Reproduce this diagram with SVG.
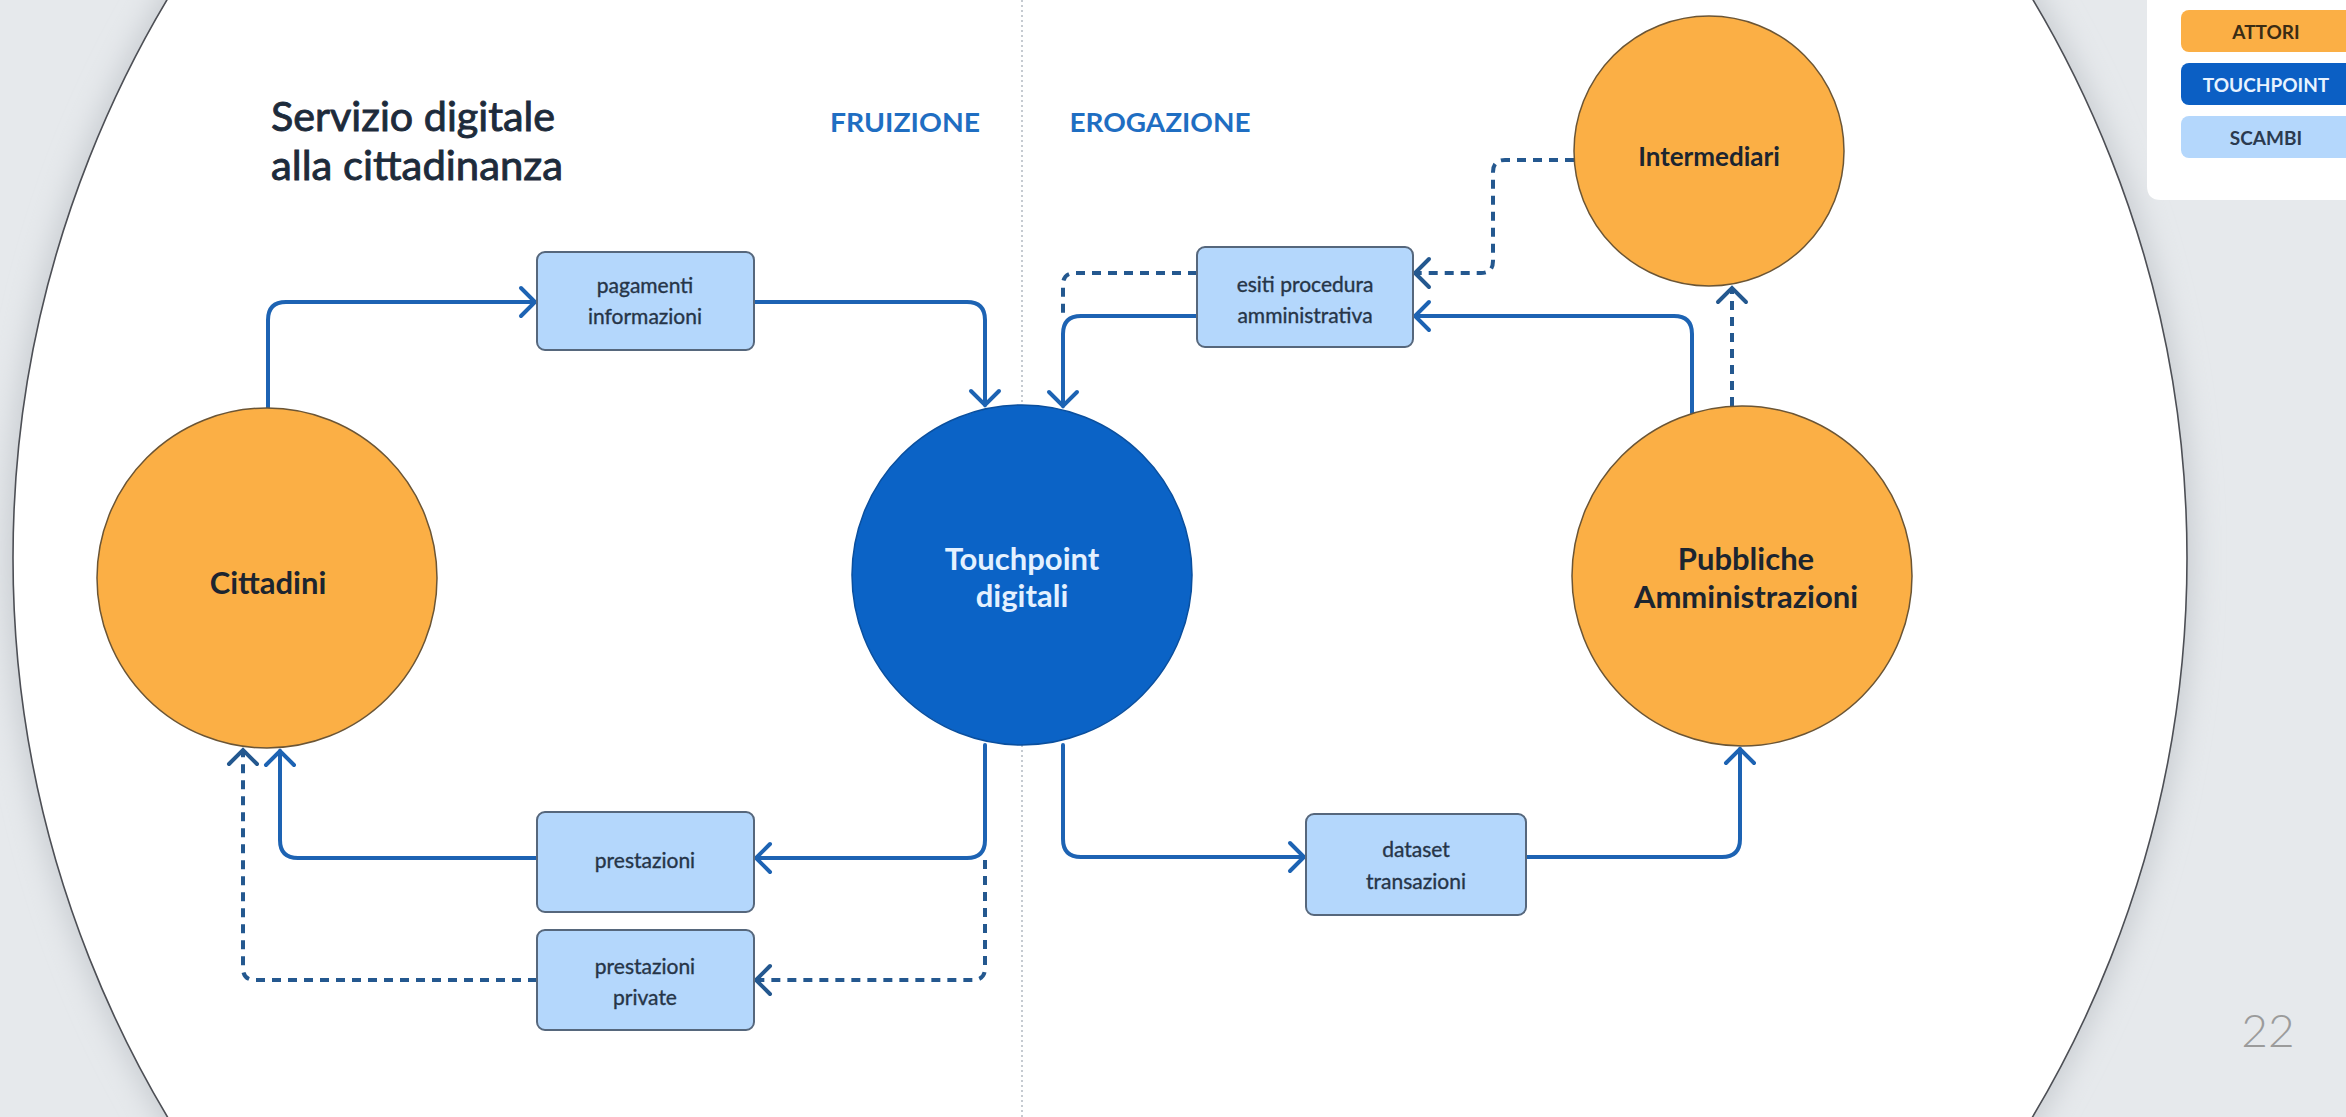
<svg xmlns="http://www.w3.org/2000/svg" width="2346" height="1117" viewBox="0 0 2346 1117">
<style>
.actor{fill:#fbaf45;stroke:#6b5535;stroke-width:1.5}
.tp{fill:#0b63c6;stroke:#0a4f9e;stroke-width:1.5}
.box{fill:#b4d7fc;stroke:#56677c;stroke-width:2}
.lbl{font-family:Lato,"Liberation Sans",sans-serif;font-weight:bold;text-anchor:middle}
.btxt{font-family:Lato,"Liberation Sans",sans-serif;font-size:21px;fill:#263548;stroke:#263548;stroke-width:0.35;text-anchor:middle}
.ttl{font-family:Lato,"Liberation Sans",sans-serif;font-size:41px;fill:#1d2b3b;stroke:#1d2b3b;stroke-width:0.9}
.solid{fill:none;stroke:#1d63b3;stroke-width:4;stroke-linecap:round;marker-end:url(#arrS)}
.dash{fill:none;stroke:#24588f;stroke-width:4;stroke-dasharray:9 7;marker-end:url(#arrD)}
.dashn{fill:none;stroke:#24588f;stroke-width:4;stroke-dasharray:9 7}
</style>
<defs>
<marker id="arrS" markerUnits="userSpaceOnUse" markerWidth="34" markerHeight="40" viewBox="-18 -20 22 40" refX="0" refY="0" orient="auto">
<path d="M-14,-14 L0,0 L-14,14" fill="none" stroke="#1d63b3" stroke-width="4" stroke-linecap="round"/>
</marker>
<marker id="arrD" markerUnits="userSpaceOnUse" markerWidth="34" markerHeight="40" viewBox="-18 -20 22 40" refX="0" refY="0" orient="auto">
<path d="M-14,-14 L0,0 L-14,14" fill="none" stroke="#24588f" stroke-width="4" stroke-linecap="round"/>
</marker>
<filter id="sh" x="-10%" y="-10%" width="120%" height="120%">
<feGaussianBlur stdDeviation="14"/>
</filter>
</defs>
<rect x="0" y="0" width="2346" height="1117" fill="#e6e9ec"/>
<circle cx="1100" cy="558" r="1094" fill="#c9cdd2" filter="url(#sh)"/>
<circle cx="1100" cy="558" r="1087" fill="#ffffff" stroke="#4d4f55" stroke-width="1.6"/>
<line x1="1022" y1="0" x2="1022" y2="1117" stroke="#c5cad0" stroke-width="2" stroke-dasharray="2 3"/>

<g id="title">
<text x="271" y="131" class="ttl" textLength="284" lengthAdjust="spacingAndGlyphs">Servizio digitale</text>
<text x="271" y="180" class="ttl" textLength="292" lengthAdjust="spacingAndGlyphs">alla cittadinanza</text>
</g>
<g id="headers">
<text x="905" y="132" class="lbl" font-size="27" fill="#1f6ec2" textLength="150" lengthAdjust="spacingAndGlyphs">FRUIZIONE</text>
<text x="1160" y="132" class="lbl" font-size="27" fill="#1f6ec2" textLength="181" lengthAdjust="spacingAndGlyphs">EROGAZIONE</text>
</g>

<g id="connectors">
<path class="solid" d="M268,410 V320 Q268,302 286,302 H535"/>
<path class="solid" d="M754,302 H967 Q985,302 985,320 V405"/>
<path class="solid" d="M1692,413 V334 Q1692,316 1674,316 H1415"/>
<path class="solid" d="M1197,316 H1081 Q1063,316 1063,334 V406"/>
<path class="dashn" d="M1197,273 H1075 Q1063,273 1063,285 V318"/>
<path class="dash" d="M1574,160 H1505 Q1493,160 1493,172 V261 Q1493,273 1481,273 H1415"/>
<path class="dash" d="M1732,406 V288"/>
<path class="solid" d="M985,745 V840 Q985,858 967,858 H756"/>
<path class="dash" d="M985,860 V968 Q985,980 973,980 H756"/>
<path class="solid" d="M537,858 H298 Q280,858 280,840 V751"/>
<path class="dash" d="M537,980 H255 Q243,980 243,968 V750"/>
<path class="solid" d="M1063,745 V839 Q1063,857 1081,857 H1304"/>
<path class="solid" d="M1526,857 H1722 Q1740,857 1740,839 V749"/>
</g>

<g id="cittadini">
<circle class="actor" cx="267" cy="578" r="170"/>
<text x="268" y="594" class="lbl" font-size="31" fill="#1c2530">Cittadini</text>
</g>
<g id="touchpoint">
<circle class="tp" cx="1022" cy="575" r="170"/>
<text x="1022" y="570" class="lbl" font-size="31" fill="#e4f1ff">Touchpoint</text>
<text x="1022" y="607" class="lbl" font-size="31" fill="#e4f1ff">digitali</text>
</g>
<g id="pa">
<circle class="actor" cx="1742" cy="576" r="170"/>
<text x="1746" y="570" class="lbl" font-size="31" fill="#1c2530">Pubbliche</text>
<text x="1746" y="608" class="lbl" font-size="31" fill="#1c2530">Amministrazioni</text>
</g>
<g id="intermediari">
<circle class="actor" cx="1709" cy="151" r="135"/>
<text x="1709" y="166" class="lbl" font-size="26" fill="#1c2530">Intermediari</text>
</g>

<g id="pagamenti">
<rect class="box" x="537" y="252" width="217" height="98" rx="8"/>
<text x="645" y="293" class="btxt">pagamenti</text>
<text x="645" y="324" class="btxt">informazioni</text>
</g>
<g id="esiti">
<rect class="box" x="1197" y="247" width="216" height="100" rx="8"/>
<text x="1305" y="292" class="btxt">esiti procedura</text>
<text x="1305" y="323" class="btxt">amministrativa</text>
</g>
<g id="prestazioni">
<rect class="box" x="537" y="812" width="217" height="100" rx="8"/>
<text x="645" y="868" class="btxt">prestazioni</text>
</g>
<g id="private">
<rect class="box" x="537" y="930" width="217" height="100" rx="8"/>
<text x="645" y="974" class="btxt">prestazioni</text>
<text x="645" y="1005" class="btxt">private</text>
</g>
<g id="dataset">
<rect class="box" x="1306" y="814" width="220" height="101" rx="8"/>
<text x="1416" y="857" class="btxt">dataset</text>
<text x="1416" y="889" class="btxt">transazioni</text>
</g>

<g id="legend">
<path d="M2147,0 H2346 V200 H2161 Q2147,200 2147,186 Z" fill="#ffffff"/>
<rect x="2181" y="10" width="200" height="42" rx="8" fill="#fbaf45"/>
<text x="2266" y="39" class="lbl" font-size="19" fill="#3a2c14">ATTORI</text>
<rect x="2181" y="63" width="200" height="42" rx="8" fill="#0b5fc4"/>
<text x="2266" y="92" class="lbl" font-size="19" fill="#e8f3ff">TOUCHPOINT</text>
<rect x="2181" y="116" width="200" height="42" rx="8" fill="#b4d7fc"/>
<text x="2266" y="145" class="lbl" font-size="19" fill="#2b3a4f">SCAMBI</text>
</g>

<text x="2268" y="1047" font-family="Lato,'Liberation Sans',sans-serif" font-weight="300" font-size="46" fill="#9b9b9b" text-anchor="middle">22</text>
</svg>
